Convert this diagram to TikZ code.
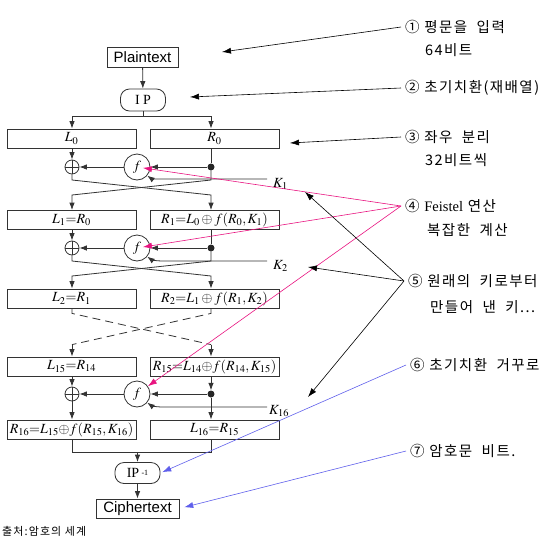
\documentclass[tikz,border=0pt]{standalone}
\usepackage{mathptmx}
\usepackage{fontspec}
\newfontfamily\arialfont{Liberation Sans}
\newfontfamily\timesfont{Liberation Serif}
\newfontfamily\krfont[LetterSpace=10]{Noto Sans CJK KR}
\usetikzlibrary{arrows.meta,calc,positioning}
\definecolor{notepink}{RGB}{232,20,128}
\definecolor{noteblue}{RGB}{95,95,235}
\tikzset{
  >={Latex[length=7.5pt,width=5.5pt]},
  blockbox/.style={draw=black!80,line width=0.8pt,minimum width=129pt,
    minimum height=19pt,inner sep=1pt,font=\fontsize{14}{16}\selectfont},
  permbox/.style={draw=black!80,line width=0.8pt,rounded corners=9pt,
    minimum width=45pt,minimum height=22pt,inner sep=1pt,
    font=\timesfont\fontsize{14}{16}\selectfont},
  textbox/.style={draw=black!80,line width=0.8pt,inner sep=2pt,
    minimum height=20pt,font=\arialfont\fontsize{15}{17}\selectfont},
  xorop/.style={circle,draw=black!80,line width=0.8pt,minimum size=14pt,
    inner sep=0pt,path picture={\draw[line width=0.8pt,black!80]
      (path picture bounding box.north) -- (path picture bounding box.south)
      (path picture bounding box.west) -- (path picture bounding box.east);}},
  fop/.style={circle,draw=black!80,line width=0.8pt,minimum size=26pt,
    inner sep=0pt,font=\fontsize{14}{16}\selectfont},
  junc/.style={circle,fill=black!85,inner sep=0pt,minimum size=7pt},
  wire/.style={line width=0.8pt,black!80},
  flow/.style={->,wire},
  dashwire/.style={wire,dash pattern=on 8pt off 5pt},
  keylbl/.style={font=\fontsize{14}{16}\selectfont,inner sep=0pt,anchor=west},
  note/.style={font=\krfont\fontsize{14.5}{16}\selectfont,anchor=west,inner sep=4pt},
  notearrow/.style={-{Latex[length=9pt,width=6pt]},line width=0.6pt},
  pinkarrow/.style={notearrow,draw=notepink},
  bluearrow/.style={notearrow,draw=noteblue},
}

\begin{document}
\begin{tikzpicture}[x=1pt,y=-1pt]
  \useasboundingbox (0,0) rectangle (557,544);
  % blocks of the cipher
  \node[textbox,minimum width=71pt] (plain) at (142.5,57) {Plaintext};
  \node[permbox] (ip) at (143,100) {I\ P};
  \node[blockbox] (L0) at (71.5,138.5) {$L_0$};
  \node[blockbox] (R0) at (214.5,138.5) {$R_0$};
  \node[blockbox] (L1) at (71.5,220) {$L_1{=}R_0$};
  \node[blockbox] (R1) at (214.5,220) {$R_1{=}L_0\oplus f(R_0,K_1)$};
  \node[blockbox] (L2) at (71.5,298.5) {$L_2{=}R_1$};
  \node[blockbox] (R2) at (214.5,298.5) {$R_2{=}L_1\oplus f(R_1,K_2)$};
  \node[blockbox] (L15) at (71.5,366.5) {$L_{15}{=}R_{14}$};
  \node[blockbox] (R15) at (214.5,366.5) {$R_{15}{=}L_{14}{\oplus}f(R_{14},K_{15})$};
  \node[blockbox] (R16) at (71.5,429.5) {$R_{16}{=}L_{15}{\oplus}f(R_{15},K_{16})$};
  \node[blockbox] (L16) at (214.5,429.5) {$L_{16}{=}R_{15}$};
  \node[permbox,minimum height=21pt] (ipinv) at (137.5,473)
    {IP\,\raisebox{2pt}{\fontsize{8}{8}\selectfont -1}};
  \node[textbox,minimum width=83pt,minimum height=19pt] (cipher) at (137.5,508.5) {Ciphertext};

  % round functions
  \foreach \r/\y in {1/167,2/248,16/394}{
    \node[xorop] (x\r) at (72,\y) {};
    \node[fop] (f\r) at (137,\y) {$f$};
    \node[junc] (d\r) at (211,\y) {};
    \draw[flow] (f\r) -- (x\r);
    \draw[flow] (d\r) -- (f\r);
  }
  \foreach \r/\y in {1/179,2/261,16/407}{
    \coordinate (k\r) at (267,\y);
    \draw[flow] (k\r) -- ($(k\r -| f\r.east)+(13,0)$)
      .. controls +(-8,0) and +(4,3) .. (f\r.-40);
  }
  \node[keylbl] (kl1) at (273,184) {$K_1$};
  \node[keylbl] (kl2) at (273,266) {$K_2$};
  \node[keylbl] (kl16) at (269,411) {$K_{16}$};

  % wiring
  \draw[flow] (plain) -- (ip);
  \coordinate (sp) at ($(ip.south)+(0,5)$);
  \draw[wire] (ip.south) -- (sp);
  \draw[flow] (sp) -| (L0.north -| x1);
  \draw[flow] (sp) -| (R0.north -| d1);
  \draw[flow] (L0.south -| x1) -- (x1);
  \draw[wire] (R0.south -| d1) -- (d1);
  \draw[flow] (x1) -- ++(0,13) -- ($(d1)+(0,28)$) -- (R1.north -| d1);
  \draw[flow] (d1) -- ++(0,13) -- ($(x1)+(0,28)$) -- (L1.north -| x1);
  \draw[flow] (L1.south -| x2) -- (x2);
  \draw[wire] (R1.south -| d2) -- (d2);
  \draw[flow] (x2) -- ++(0,13) -- ($(d2)+(0,28)$) -- (R2.north -| d2);
  \draw[flow] (d2) -- ++(0,13) -- ($(x2)+(0,28)$) -- (L2.north -| x2);
  \coordinate (dl) at ($(L15.north -| x16)+(0,-12)$);
  \coordinate (dr) at ($(R15.north -| d16)+(0,-12)$);
  \draw[dashwire] (L2.south -| x2) -- ++(0,5) -- (dr);
  \draw[dashwire] (R2.south -| d2) -- ++(0,5) -- (dl);
  \draw[flow] (dl) -- (L15.north -| x16);
  \draw[flow] (dr) -- (R15.north -| d16);
  \draw[flow] (L15.south -| x16) -- (x16);
  \draw[flow] (R15.south -| d16) -- (d16);
  \draw[flow] (x16) -- (R16.north -| x16);
  \draw[flow] (d16) -- (L16.north -| d16);
  \coordinate (mg) at ($(R16.south -| x16)+(0,13)$);
  \draw[wire] (R16.south -| x16) -- (mg) -- (mg -| d16) -- (L16.south -| d16);
  \draw[flow] (mg -| ipinv) -- (ipinv.north);
  \draw[flow] (ipinv) -- (cipher);

  % notes
  \node[note] (n1) at (401,27) {①\ 평문을\ \ 입력};
  \node[note] (n1b) at (421,50) {64비트};
  \node[note] (n2) at (401,88) {②\ 초기치환(재배열)};
  \node[note] (n3) at (401,137) {③\ 좌우\ \ 분리};
  \node[note] (n3b) at (421,160) {32비트씩};
  \node[note] (n4) at (401,206) {④\ {\timesfont Feistel}\ 연산};
  \node[note] (n4b) at (423,230) {복잡한\ \ 계산};
  \node[note] (n5) at (404,281) {⑤\ 원래의\ \ 키로부터};
  \node[note] (n5b) at (426,307) {만들어\ \ 낸\ \ 키...};
  \node[note] (n6) at (406,365) {⑥\ 초기치환\ \ 거꾸로};
  \node[note] (n7) at (406,451) {⑦\ 암호문\ \ 비트.};
  \node[note,font=\krfont\fontsize{11}{12}\selectfont,inner sep=0pt] (src) at (2,531) {출처:암호의\ 세계};

  \coordinate (t1) at (222,52);
  \coordinate (t2) at (190,97);
  \coordinate (t3) at (290,143);
  \coordinate (t5a) at (305,192);
  \coordinate (t5b) at (308,267);
  \coordinate (t5c) at (308,397);
  \draw[notearrow] (n1.west) -- (t1);
  \draw[notearrow] (n2.west) -- (t2);
  \draw[notearrow] (n3.west) -- (t3);
  \draw[pinkarrow,shorten >=6pt] (n4.west) -- (f1.center);
  \draw[pinkarrow,shorten >=6pt] (n4.west) -- (f2.center);
  \draw[pinkarrow] (n4.west) -- (f16);
  \draw[notearrow] (n5.west) -- (t5a);
  \draw[notearrow] (n5.west) -- (t5b);
  \draw[notearrow] (n5.west) -- (t5c);
  \draw[bluearrow,shorten >=2pt] (n6.west) -- (ipinv.east);
  \draw[bluearrow,shorten >=5pt] (n7.west) -- (cipher.east);
\end{tikzpicture}
\end{document}
